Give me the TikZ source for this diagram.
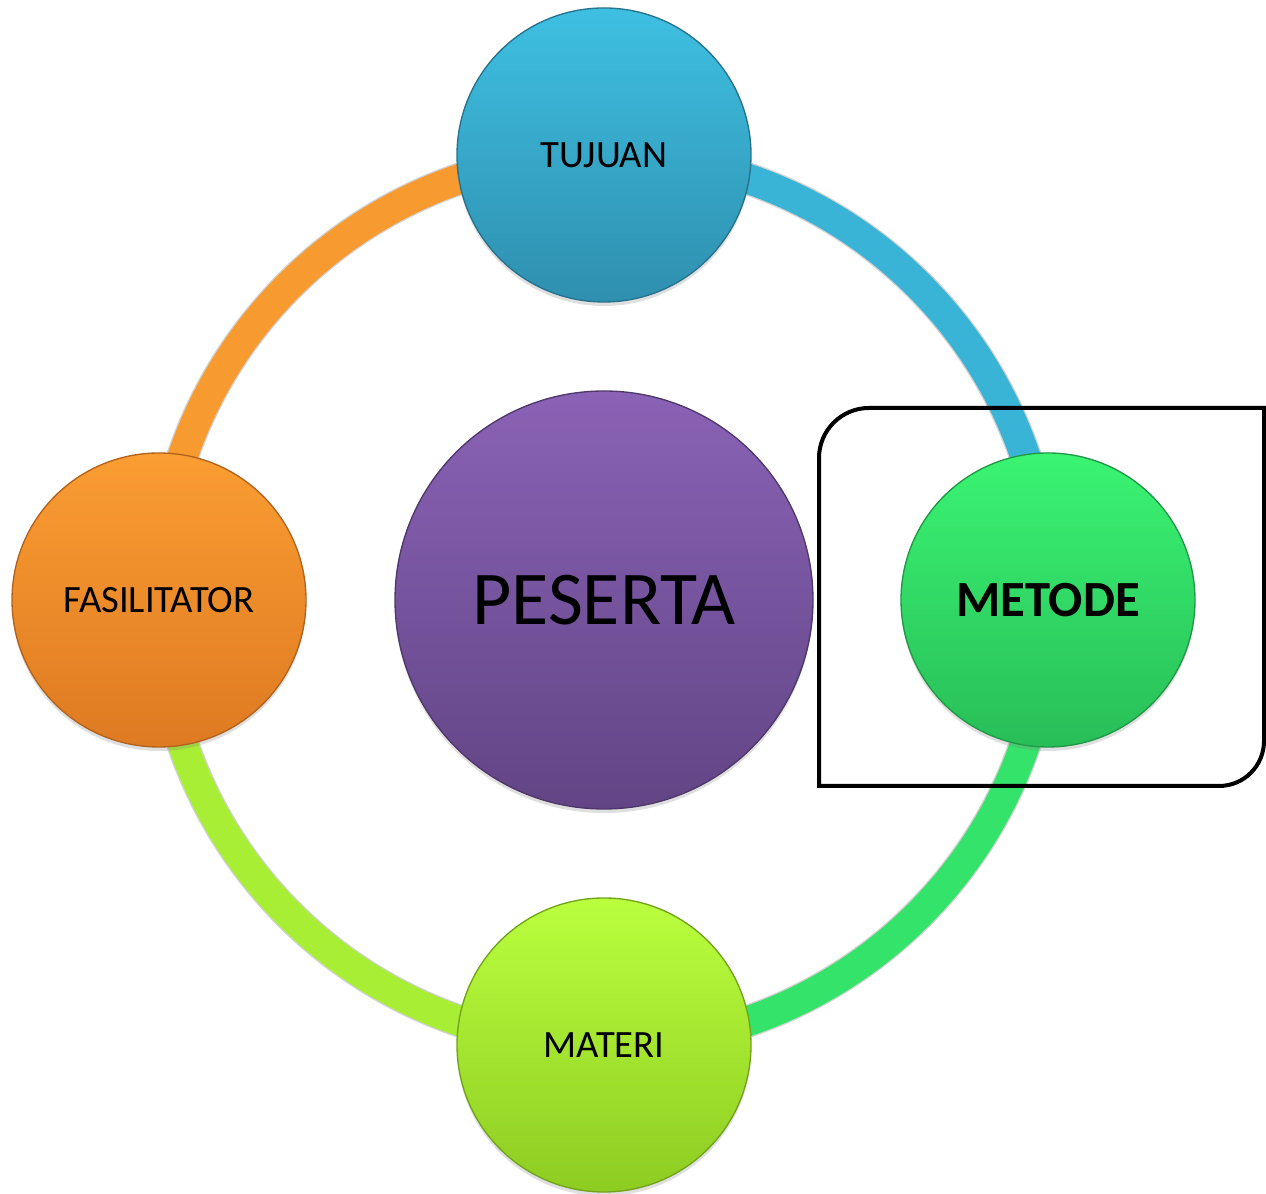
\documentclass[tikz,border=0pt]{standalone}
\usepackage{fontspec}
\setmainfont{Carlito}
\usetikzlibrary{shadows}
\definecolor{bluetop}{HTML}{3EC0E2}
\definecolor{bluebot}{HTML}{2F8FAF}
\definecolor{bluering}{HTML}{3AB4D6}
\definecolor{orangetop}{HTML}{FA9D32}
\definecolor{orangebot}{HTML}{DE7A22}
\definecolor{orangering}{HTML}{F79A30}
\definecolor{greentop}{HTML}{3AF472}
\definecolor{greenbot}{HTML}{28BE58}
\definecolor{greenring}{HTML}{34E46A}
\definecolor{limetop}{HTML}{BAFF3E}
\definecolor{limebot}{HTML}{8ECC22}
\definecolor{limering}{HTML}{A8EE34}
\definecolor{purptop}{HTML}{8A62B6}
\definecolor{purpbot}{HTML}{624585}
\tikzset{
  ball/.style={circle, inner sep=0pt, minimum size=220.5pt, text=black,
    font=\fontsize{29}{35}\selectfont,
    drop shadow={opacity=0.25, shadow xshift=0pt, shadow yshift=-3pt}},
  ringseg/.style={line width=22.5pt, line cap=butt},
  ringedge/.style={line width=24.5pt, line cap=butt, black!35, opacity=0.5}
}
\begin{document}
\begin{tikzpicture}[x=0.75pt,y=0.75pt]
\useasboundingbox (0,0) rectangle (1266,1194);
\fill[white] (0,0) rectangle (1266,1194);
\coordinate (c) at (604,594);
% ring
\draw[ringedge] (c) ++(90:445) arc[start angle=90,end angle=450,radius=445];
\draw[ringseg, bluering]   (c) ++(0:445)   arc[start angle=0,end angle=90,radius=445];
\draw[ringseg, orangering] (c) ++(90:445)  arc[start angle=90,end angle=180,radius=445];
\draw[ringseg, limering]   (c) ++(180:445) arc[start angle=180,end angle=270,radius=445];
\draw[ringseg, greenring]  (c) ++(270:445) arc[start angle=270,end angle=360,radius=445];
% circles
\node[ball, top color=bluetop, bottom color=bluebot, draw=bluebot!80!black, line width=1pt] (tujuan) at (604,1039) {TUJUAN};
\node[ball, top color=orangetop, bottom color=orangebot, draw=orangebot!80!black, line width=1pt] (fasil) at (159,594) {FASILITATOR};
\node[ball, top color=greentop, bottom color=greenbot, draw=greenbot!80!black, line width=1pt, font=\fontsize{38}{46}\selectfont\bfseries] (metode) at (1048,594) {METODE};
\node[ball, top color=limetop, bottom color=limebot, draw=limebot!80!black, line width=1pt] (materi) at (604,149) {MATERI};
\node[ball, minimum size=313.5pt, top color=purptop, bottom color=purpbot, draw=purpbot!80!black, line width=1pt, font=\fontsize{57}{68}\selectfont] (peserta) at (c) {PESERTA};
% highlight frame
\draw[line width=3pt, black] (819,408) -- (819,736) arc[start angle=180,end angle=90,radius=50] -- (1264,786) -- (1264,453) arc[start angle=0,end angle=-90,radius=45] -- cycle;
\end{tikzpicture}
\end{document}
